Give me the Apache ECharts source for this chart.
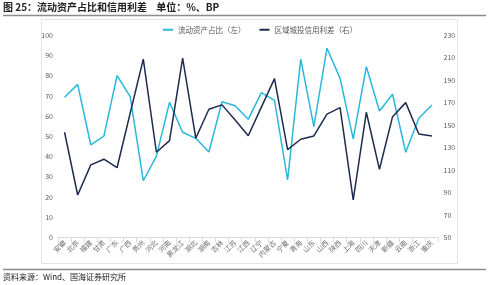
<!DOCTYPE html>
<html><head><meta charset="utf-8">
<script src="https://cdn.jsdelivr.net/npm/echarts@6/dist/echarts.min.js"></script>
<style>html,body{margin:0;padding:0;background:#fff}#c{width:500px;height:285px}</style>
</head><body><div id="c"></div>
<script>
const categories = ['安徽','北京','福建','甘肃','广东','广西','贵州','河北','河南','黑龙江','湖北','湖南','吉林','江苏','江西','辽宁','内蒙古','宁夏','青海','山东','山西','陕西','上海','四川','天津','新疆','云南','浙江','重庆'];
const currentAssetRatio = [69.3,75.7,45.7,50.1,80,69.6,28,40.2,66.8,52,49,42.2,67.1,65.1,58.4,71.6,67.8,28.4,88.2,54.8,93.6,78.7,48.7,84.5,62.5,70.8,42.1,58.9,65.5];
const creditSpread = [143.6,87.7,114.5,119.6,112,160.5,208.8,125.8,136.1,209.6,138.3,164.1,168,154.6,140.5,166,191.4,128.1,137.4,140.3,159.7,165.5,83.3,161.4,110.6,157.5,170,142.1,140.3];
const leftTicks = {min:0,max:100,interval:10};
const rightTicks = {min:50,max:230,interval:20};
const seriesNames = ['流动资产占比（左）','区域城投信用利差（右）'];
const titleText = '图 25：流动资产占比和信用利差    单位：%、BP';
const sourceText = '资料来源：Wind、国海证券研究所';

const chart = echarts.init(document.getElementById('c'), null, {renderer:'canvas'});
const cjk = '"Noto Sans CJK SC", sans-serif';
const lab = {color:'#595959', fontSize:7, fontFamily:cjk};
chart.setOption({
  animation:false,
  graphic:[
    {type:'text', left:3, top:2, style:{text:titleText, font:'bold 10px "Noto Sans CJK SC"', fill:'#222'}},
    {type:'line', shape:{x1:3,y1:15.5,x2:486,y2:15.5}, style:{stroke:'#8c8c8c', lineWidth:1.5}},
    {type:'rect', shape:{x:41.5,y:19.5,width:416,height:244}, style:{fill:'none', stroke:'#e3e3e3', lineWidth:1}},
    {type:'line', shape:{x1:3,y1:269.5,x2:486,y2:269.5}, style:{stroke:'#8c8c8c', lineWidth:1.5}},
    {type:'text', left:3, top:273, style:{text:sourceText, font:'8px "Noto Sans CJK SC"', fill:'#222'}}
  ],
  legend:{top:21, left:158, itemWidth:10, itemHeight:2, itemGap:14,
    textStyle:{fontSize:7.5, color:'#595959', fontFamily:cjk},
    data:seriesNames.map(n=>({name:n, icon:'rect'}))},
  grid:{left:58, right:61.5, top:35.3, bottom:47.7},
  xAxis:{type:'category', data:categories, boundaryGap:true,
    axisLine:{lineStyle:{color:'#d9d9d9'}},
    axisTick:{show:true, alignWithLabel:false, lineStyle:{color:'#d9d9d9'}},
    axisLabel:{...lab, color:'#6e6e6e', rotate:45, interval:0, margin:4}},
  yAxis:[
    {type:'value', ...leftTicks, position:'left', splitLine:{show:false},
     axisLine:{show:false}, axisTick:{show:false}, axisLabel:{...lab, margin:5}},
    {type:'value', ...rightTicks, position:'right', splitLine:{show:false},
     axisLine:{show:false}, axisTick:{show:false}, axisLabel:{...lab, margin:5}}
  ],
  series:[
    {name:seriesNames[0], type:'line', yAxisIndex:0, data:currentAssetRatio, symbol:'none',
     lineStyle:{color:'#2bb7da', width:1.5}, itemStyle:{color:'#2bb7da'}},
    {name:seriesNames[1], type:'line', yAxisIndex:1, data:creditSpread, symbol:'none',
     lineStyle:{color:'#1d2b4f', width:1.5}, itemStyle:{color:'#1d2b4f'}}
  ]
});
</script></body></html>
